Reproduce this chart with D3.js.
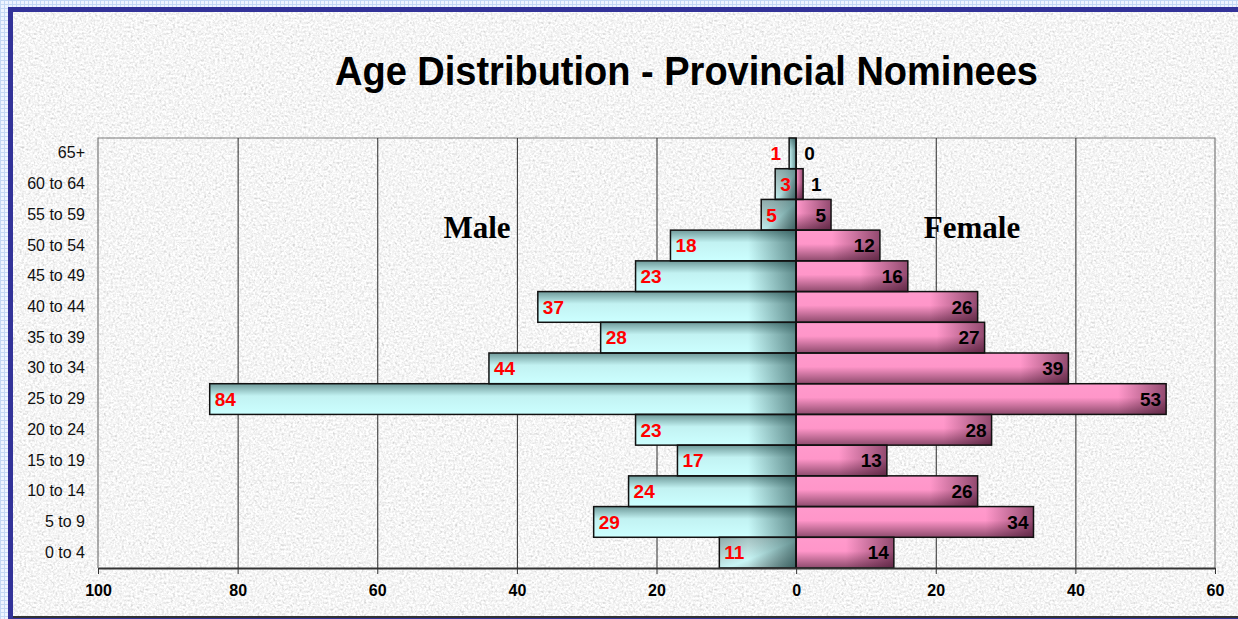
<!DOCTYPE html>
<html>
<head>
<meta charset="utf-8">
<script src="https://cdn.jsdelivr.net/npm/d3@7"></script>
<style>
  html, body { margin: 0; padding: 0; background: #e6efff; }
  svg { display: block; }
</style>
</head>
<body>
<div id="chart"></div>
<script>
const width = 1238;
const height = 619;

// data, top row first
const ageGroups = ["65+", "60 to 64", "55 to 59", "50 to 54", "45 to 49", "40 to 44", "35 to 39",
  "30 to 34", "25 to 29", "20 to 24", "15 to 19", "10 to 14", "5 to 9", "0 to 4"];
const male = [1, 3, 5, 18, 23, 37, 28, 44, 84, 23, 17, 24, 29, 11];
const female = [0, 1, 5, 12, 16, 26, 27, 39, 53, 28, 13, 26, 34, 14];
const xTicks = [-100, -80, -60, -40, -20, 0, 20, 40, 60];
const gridValues = [-80, -60, -40, -20, 20, 40];
const texturedMale = ["60 to 64", "55 to 59", "0 to 4"]; // bars drawn with the odd hatched fill

const margin = { top: 138, right: 23, bottom: 51, left: 98 };

const svg = d3
  .select("#chart")
  .append("svg")
  .attr("width", width)
  .attr("height", height)
  .attr("viewBox", [0, 0, width, height]);

const defs = svg.append("defs");

// light blue grid outside the frame
const grid = defs.append("pattern")
  .attr("id", "bluegrid")
  .attr("width", 4).attr("height", 4)
  .attr("patternUnits", "userSpaceOnUse");
grid.append("rect").attr("width", 4).attr("height", 4).attr("fill", "#eef4ff");
grid.append("path").attr("d", "M0 0.5H4M0.5 0V4").attr("stroke", "#c4d8f4").attr("stroke-width", 1);

// grey paper noise
const noise = defs.append("filter")
  .attr("id", "noise")
  .attr("x", 0).attr("y", 0).attr("width", "100%").attr("height", "100%");
noise.append("feTurbulence")
  .attr("type", "fractalNoise")
  .attr("baseFrequency", 0.45)
  .attr("numOctaves", 2)
  .attr("seed", 4);
noise.append("feColorMatrix")
  .attr("type", "matrix")
  .attr("values", "0.34 0.34 0.34 0 0.4  0.34 0.34 0.34 0 0.4  0.34 0.34 0.34 0 0.4  0 0 0 0 1");

function linGrad(id, x2, y2, stops) {
  const g = defs.append("linearGradient")
    .attr("id", id)
    .attr("x1", 0).attr("y1", 0).attr("x2", x2).attr("y2", y2);
  stops.forEach(([o, c, a]) => {
    g.append("stop").attr("offset", o).attr("stop-color", c).attr("stop-opacity", a == null ? 1 : a);
  });
}

linGrad("maleGrad", 0, 1, [["0%", "#6f9a9a"], ["40%", "#c2f2f2"], ["100%", "#ccffff"]]);
linGrad("femaleGrad", 0, 1, [["0%", "#ff9acc"], ["45%", "#ff96c9"], ["100%", "#8e4b6d"]]);
linGrad("maleAlt", 1, 1, [["0%", "#8fa9a9"], ["35%", "#b8d8d8"], ["55%", "#c8f6f6"], ["75%", "#a9c9c9"], ["100%", "#6f8f8f"]]);
linGrad("shade", 1, 0, [["0%", "#103a3a", 0], ["100%", "#103a3a", 0.55]]);
linGrad("shadeF", 1, 0, [["0%", "#3a0a25", 0], ["100%", "#3a0a25", 0.55]]);

// background
svg.append("rect").attr("width", width).attr("height", height).attr("fill", "url(#bluegrid)");
svg.append("rect").attr("x", 8).attr("y", 7).attr("width", width).attr("height", height).attr("fill", "#333399");
svg.append("rect").attr("x", 13).attr("y", 12).attr("width", width).attr("height", 604)
  .attr("fill", "#ebebeb").attr("filter", "url(#noise)");
svg.append("line").attr("x1", 13).attr("x2", width).attr("y1", 617).attr("y2", 617)
  .attr("stroke", "#333").attr("stroke-width", 2);

const x = d3
  .scaleLinear()
  .domain([-100, 60])
  .range([margin.left, width - margin.right]);

const y = d3
  .scaleBand()
  .domain(ageGroups)
  .range([margin.top, height - margin.bottom])
  .padding(0);

// plot frame (top, left, right) in grey
svg.append("path")
  .attr("d", `M${x(-100)},${y.range()[1]}V${margin.top}H${x(60)}V${y.range()[1]}`)
  .attr("fill", "none")
  .attr("stroke", "#7a7a7a")
  .attr("stroke-width", 1.2);

// gridlines
svg.append("g")
  .selectAll("line")
  .data(gridValues)
  .join("line")
  .attr("x1", (d) => x(d) + 0.5)
  .attr("x2", (d) => x(d) + 0.5)
  .attr("y1", margin.top)
  .attr("y2", y.range()[1])
  .attr("stroke", "#2a2a2a")
  .attr("stroke-width", 1);

// title
svg.append("text")
  .attr("x", 335)
  .attr("y", 85)
  .attr("textLength", 703)
  .attr("lengthAdjust", "spacingAndGlyphs")
  .attr("font-family", "Liberation Sans, Arial, sans-serif")
  .attr("font-weight", "bold")
  .attr("font-size", 40)
  .attr("fill", "#000")
  .text("Age Distribution - Provincial Nominees");

svg.append("text")
  .attr("x", 477).attr("y", 238)
  .attr("text-anchor", "middle")
  .attr("font-family", "Liberation Serif, Times New Roman, serif")
  .attr("font-weight", "bold")
  .attr("font-size", 31)
  .text("Male");

svg.append("text")
  .attr("x", 972).attr("y", 238)
  .attr("text-anchor", "middle")
  .attr("font-family", "Liberation Serif, Times New Roman, serif")
  .attr("font-weight", "bold")
  .attr("font-size", 31)
  .text("Female");

const rows = ageGroups.map((g, i) => ({ group: g, male: male[i], female: female[i] }));
const shadeW = 48; // width of the dark fade at the right end of each bar

// male bars (drawn to the left of zero)
const mBars = svg.append("g").attr("class", "male");
const mRows = rows.filter((d) => d.male > 0);
mBars.selectAll("rect.base")
  .data(mRows)
  .join("rect")
  .attr("class", "base")
  .attr("x", (d) => x(-d.male))
  .attr("y", (d) => y(d.group))
  .attr("width", (d) => x(0) - x(-d.male))
  .attr("height", y.bandwidth())
  .attr("fill", (d) => (texturedMale.includes(d.group) ? "url(#maleAlt)" : "url(#maleGrad)"));
mBars.selectAll("rect.shade")
  .data(mRows)
  .join("rect")
  .attr("class", "shade")
  .attr("x", (d) => x(0) - Math.min(shadeW, x(0) - x(-d.male)))
  .attr("y", (d) => y(d.group))
  .attr("width", (d) => Math.min(shadeW, x(0) - x(-d.male)))
  .attr("height", y.bandwidth())
  .attr("fill", "url(#shade)");
mBars.selectAll("rect.edge")
  .data(mRows)
  .join("rect")
  .attr("class", "edge")
  .attr("x", (d) => x(-d.male))
  .attr("y", (d) => y(d.group))
  .attr("width", (d) => x(0) - x(-d.male))
  .attr("height", y.bandwidth())
  .attr("fill", "none")
  .attr("stroke", "#111")
  .attr("stroke-width", 1.5);

// female bars
const fBars = svg.append("g").attr("class", "female");
const fRows = rows.filter((d) => d.female > 0);
fBars.selectAll("rect.base")
  .data(fRows)
  .join("rect")
  .attr("class", "base")
  .attr("x", x(0))
  .attr("y", (d) => y(d.group))
  .attr("width", (d) => x(d.female) - x(0))
  .attr("height", y.bandwidth())
  .attr("fill", "url(#femaleGrad)");
fBars.selectAll("rect.shade")
  .data(fRows)
  .join("rect")
  .attr("class", "shade")
  .attr("x", (d) => x(d.female) - Math.min(shadeW, x(d.female) - x(0)))
  .attr("y", (d) => y(d.group))
  .attr("width", (d) => Math.min(shadeW, x(d.female) - x(0)))
  .attr("height", y.bandwidth())
  .attr("fill", "url(#shadeF)");
fBars.selectAll("rect.edge")
  .data(fRows)
  .join("rect")
  .attr("class", "edge")
  .attr("x", x(0))
  .attr("y", (d) => y(d.group))
  .attr("width", (d) => x(d.female) - x(0))
  .attr("height", y.bandwidth())
  .attr("fill", "none")
  .attr("stroke", "#111")
  .attr("stroke-width", 1.5);

// zero line
svg.append("line")
  .attr("x1", x(0)).attr("x2", x(0))
  .attr("y1", margin.top).attr("y2", y.range()[1])
  .attr("stroke", "#111").attr("stroke-width", 1.5);

// value labels
const labelFont = "Liberation Sans, Arial, sans-serif";
svg.append("g")
  .selectAll("text")
  .data(rows)
  .join("text")
  .attr("x", (d) => (d.male < 2 ? x(-d.male) - 8 : x(-d.male) + 5))
  .attr("text-anchor", (d) => (d.male < 2 ? "end" : "start"))
  .attr("y", (d) => y(d.group) + y.bandwidth() / 2)
  .attr("dy", "0.36em")
  .attr("font-family", labelFont)
  .attr("font-weight", "bold")
  .attr("font-size", 19)
  .attr("fill", "#ff0000")
  .text((d) => d.male);

svg.append("g")
  .selectAll("text")
  .data(rows)
  .join("text")
  .attr("x", (d) => (d.female < 2 ? x(d.female) + 8 : x(d.female) - 5))
  .attr("text-anchor", (d) => (d.female < 2 ? "start" : "end"))
  .attr("y", (d) => y(d.group) + y.bandwidth() / 2)
  .attr("dy", "0.36em")
  .attr("font-family", labelFont)
  .attr("font-weight", "bold")
  .attr("font-size", 19)
  .attr("fill", "#000")
  .text((d) => d.female);

// Y axis: age groups
const yAxis = svg.append("g")
  .attr("transform", `translate(${margin.left},0)`)
  .call(d3.axisLeft(y).tickSize(0).tickPadding(13));
yAxis.select(".domain").remove();
yAxis.selectAll("text")
  .attr("font-family", labelFont)
  .attr("font-size", 16)
  .attr("fill", "#111");

// X axis, values shown without sign
const xAxis = svg.append("g")
  .attr("transform", `translate(0,${y.range()[1]})`)
  .call(d3.axisBottom(x).tickValues(xTicks).tickFormat((d) => Math.abs(d)).tickSize(6).tickPadding(11).tickSizeOuter(0));
xAxis.select(".domain").attr("stroke", "#333").attr("stroke-width", 2);
xAxis.selectAll(".tick line").attr("stroke", "#333");
xAxis.selectAll("text")
  .attr("font-family", labelFont)
  .attr("font-weight", "bold")
  .attr("font-size", 16)
  .attr("fill", "#000");
</script>
</body>
</html>
